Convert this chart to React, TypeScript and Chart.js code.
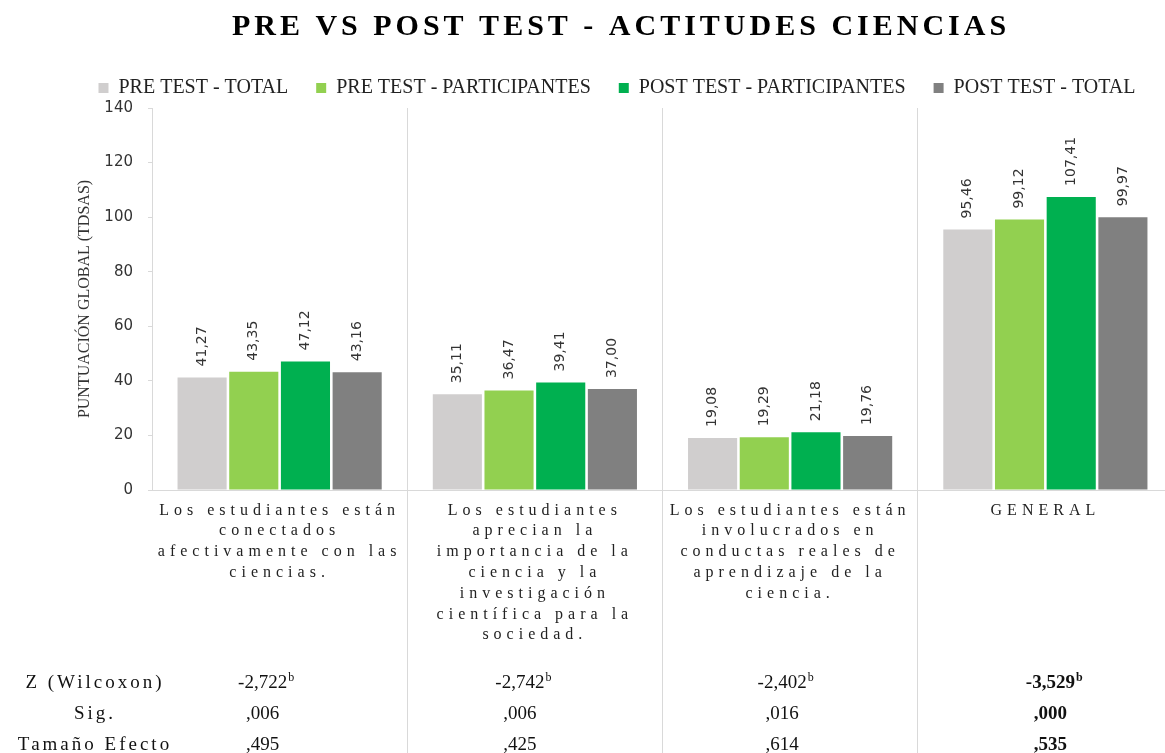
import React, { useEffect, useRef } from 'react';
import { Chart, registerables } from 'chart.js';

Chart.register(...registerables);

// ---------- data ----------
const categories: string[][] = [
  ['Los estudiantes están', 'conectados', 'afectivamente con las', 'ciencias.'],
  ['Los estudiantes', 'aprecian la', 'importancia de la', 'ciencia y la', 'investigación', 'científica para la', 'sociedad.'],
  ['Los estudiantes están', 'involucrados en', 'conductas reales de', 'aprendizaje de la', 'ciencia.'],
  ['GENERAL'],
];

const seriesNames = ['PRE TEST - TOTAL', 'PRE TEST - PARTICIPANTES', 'POST TEST - PARTICIPANTES', 'POST TEST - TOTAL'];
const preTestTotal = [41.27, 35.11, 19.08, 95.46];
const preTestParticipantes = [43.35, 36.47, 19.29, 99.12];
const postTestParticipantes = [47.12, 39.41, 21.18, 107.41];
const postTestTotal = [43.16, 37.0, 19.76, 99.97];
const seriesColors = ['#D0CECE', '#92D050', '#00B050', '#808080'];

const chartTitle = 'PRE VS POST TEST - ACTITUDES CIENCIAS';
const yAxisTitle = 'PUNTUACIÓN GLOBAL (TDSAS)';
const yMin = 0;
const yMax = 140;
const yStep = 20;

const tableRowLabels = ['Z (Wilcoxon)', 'Sig.', 'Tamaño Efecto'];
const zWilcoxon = ['-2,722', '-2,742', '-2,402', '-3,529'];
const zSuperscript = 'b';
const sigValues = [',006', ',006', ',016', ',000'];
const effectSize = [',495', ',425', ',614', ',535'];
const boldColumn = [false, false, false, true];

// ---------- styles ----------
const GRID = '#D9D9D9';
const colOffsets = [-17, -15, -8, 5];
const rowBaselines = [688, 719, 750];

const formatValue = (v: number) => v.toFixed(2).replace('.', ',');

const decorPlugin = {
  id: 'decor',
  beforeDraw(chart: any) {
    chart.ctx.letterSpacing = '0px';
  },
  afterDatasetsDraw(chart: any) {
    const ctx = chart.ctx as CanvasRenderingContext2D;
    ctx.save();
    ctx.font = '14px "DejaVu Sans"';
    ctx.fillStyle = '#333333';
    ctx.textAlign = 'left';
    ctx.textBaseline = 'middle';
    chart.data.datasets.forEach((ds: any, di: number) => {
      const meta = chart.getDatasetMeta(di);
      meta.data.forEach((bar: any, i: number) => {
        ctx.save();
        ctx.translate(bar.x, bar.y - 11);
        ctx.rotate(-Math.PI / 2);
        ctx.fillText(formatValue(ds.data[i] as number), 0, 0);
        ctx.restore();
      });
    });
    ctx.restore();
    // spaced lettering for the category labels (x tick layer drawn next, z = 1)
    (ctx as any).letterSpacing = '5px';
  },
  afterDraw(chart: any) {
    const ctx = chart.ctx as CanvasRenderingContext2D;
    (ctx as any).letterSpacing = '0px';
    const xs = chart.scales.x;
    const { bottom } = chart.chartArea;
    ctx.save();
    // separators extended through the label + table area
    ctx.strokeStyle = GRID;
    ctx.lineWidth = 1;
    for (let i = 0; i < categories.length - 1; i++) {
      const mid = (xs.getPixelForValue(i) + xs.getPixelForValue(i + 1)) / 2;
      const x = Math.round(mid - 0.5) + 0.5;
      ctx.beginPath();
      ctx.moveTo(x, bottom);
      ctx.lineTo(x, chart.height);
      ctx.stroke();
    }

    // title
    ctx.fillStyle = '#000000';
    ctx.font = 'bold 30px "Liberation Serif"';
    (ctx as any).letterSpacing = '4px';
    ctx.textAlign = 'center';
    ctx.textBaseline = 'alphabetic';
    ctx.fillText(chartTitle, 621, 35);

    // table row labels
    ctx.font = '19px "Liberation Serif"';
    (ctx as any).letterSpacing = '3px';
    ctx.fillStyle = '#111111';
    tableRowLabels.forEach((t, r) => ctx.fillText(t, 95, rowBaselines[r]));
    (ctx as any).letterSpacing = '0px';

    const rows = [zWilcoxon, sigValues, effectSize];
    for (let c = 0; c < categories.length; c++) {
      const cx = xs.getPixelForValue(c) + colOffsets[c];
      const weight = boldColumn[c] ? 'bold ' : '';
      rows.forEach((row, r) => {
        ctx.font = `${weight}19px "Liberation Serif"`;
        ctx.textAlign = 'center';
        const w = ctx.measureText(row[c]).width;
        ctx.fillText(row[c], cx, rowBaselines[r]);
        if (r === 0) {
          ctx.font = `${weight}12px "Liberation Serif"`;
          ctx.textAlign = 'left';
          ctx.fillText(zSuperscript, cx + w / 2 + 1, rowBaselines[r] - 7);
        }
      });
    }
    ctx.restore();
  },
};

export default function App() {
  const ref = useRef<HTMLCanvasElement>(null);
  useEffect(() => {
    const values = [preTestTotal, preTestParticipantes, postTestParticipantes, postTestTotal];
    const chart = new Chart(ref.current as HTMLCanvasElement, {
      type: 'bar',
      data: {
        labels: categories,
        datasets: seriesNames.map((name, i) => ({
          label: name,
          data: values[i],
          backgroundColor: seriesColors[i],
          borderWidth: 0,
          categoryPercentage: 0.81,
          barPercentage: 0.95,
        })),
      },
      options: {
        responsive: false,
        animation: false,
        layout: { padding: { top: 50, left: 61, right: 61, bottom: 0 } },
        plugins: {
          title: { display: false },
          tooltip: { enabled: false },
          legend: {
            position: 'top',
            labels: {
              boxWidth: 10,
              boxHeight: 10,
              padding: 28,
              color: '#222222',
              font: { family: 'Liberation Serif', size: 20 },
            },
          },
        },
        scales: {
          x: {
            type: 'category',
            offset: true,
            grid: { offset: true, color: GRID, drawTicks: false, lineWidth: 1 },
            border: { color: GRID },
            ticks: {
              font: { family: 'Liberation Serif', size: 16, lineHeight: 1.3 },
              color: '#222222',
              padding: 10,
              maxRotation: 0,
              minRotation: 0,
              autoSkip: false,
              z: 1,
            },
            afterFit: (s: any) => {
              s.height = 263;
            },
          },
          y: {
            min: yMin,
            max: yMax,
            ticks: {
              stepSize: yStep,
              font: { family: 'DejaVu Sans', size: 15 },
              color: '#333333',
              padding: 15,
            },
            grid: { drawOnChartArea: false, drawTicks: true, tickLength: 4, color: GRID },
            border: { color: GRID },
            title: {
              display: true,
              text: yAxisTitle,
              color: '#333333',
              font: { family: 'Liberation Serif', size: 16 },
              padding: { top: 14, bottom: 0 },
            },
            afterFit: (s: any) => {
              s.width = 91;
            },
          },
        },
      },
      plugins: [decorPlugin],
    } as any);
    return () => chart.destroy();
  }, []);

  return (
    <div
      style={{
        position: 'fixed',
        left: 0,
        top: 0,
        width: 1165,
        height: 753,
        overflow: 'hidden',
        background: '#ffffff',
      }}
    >
      <canvas ref={ref} width={1234} height={753} style={{ display: 'block' }} />
    </div>
  );
}
